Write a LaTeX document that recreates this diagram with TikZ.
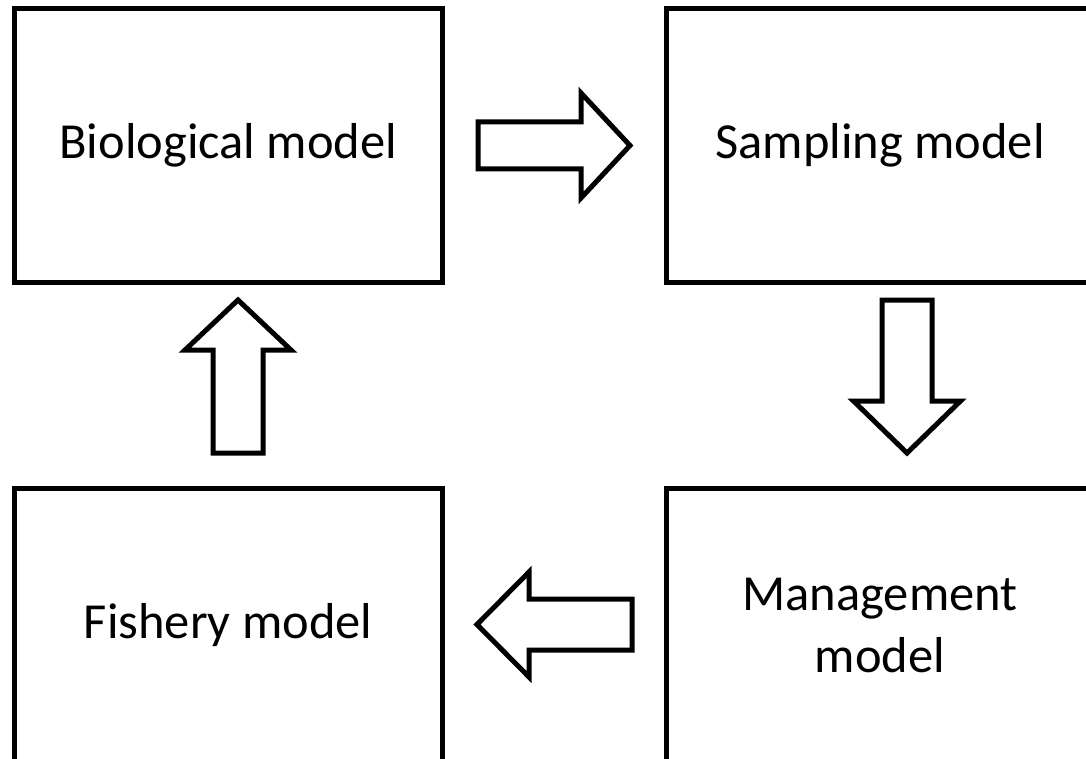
\documentclass[tikz,border=0pt]{standalone}
\usepackage{fontspec}
\setmainfont{Carlito}
\begin{document}
\begin{tikzpicture}[x=1pt,y=-1pt,
  box/.style={draw, line width=5pt, minimum width=427.5pt, minimum height=273.5pt,
    inner sep=0pt, font=\fontsize{50.5}{62}\selectfont, align=center},
  blockarrow/.style={draw, line width=5pt, line join=miter, miter limit=10, fill=white}]
\useasboundingbox[fill=white] (0,0) rectangle (1086,759);
\node[box] (bio) at (228.25,145.25) {Biological model};
\node[box] (samp) at (880,145.25) {Sampling model};
\node[box] (fish) at (228.25,625) {Fishery model};
\node[box] (mgmt) at (880,625) {Management\\model};
% right arrow (bio -> samp)
\draw[blockarrow] (478,122) -- (581,122) -- (581,93) -- (630,145.5) -- (581,198) -- (581,169) -- (478,169) -- cycle;
% down arrow (samp -> mgmt)
\draw[blockarrow] (882,300) -- (932,300) -- (932,401) -- (960.5,401) -- (907,453) -- (853.5,401) -- (882,401) -- cycle;
% left arrow (mgmt -> fish)
\draw[blockarrow] (632,599) -- (529,599) -- (529,572) -- (477,624.5) -- (529,677) -- (529,650) -- (632,650) -- cycle;
% up arrow (fish -> bio)
\draw[blockarrow] (213,453) -- (263,453) -- (263,350) -- (291,350) -- (238,300) -- (185,350) -- (213,350) -- cycle;
\end{tikzpicture}
\end{document}
